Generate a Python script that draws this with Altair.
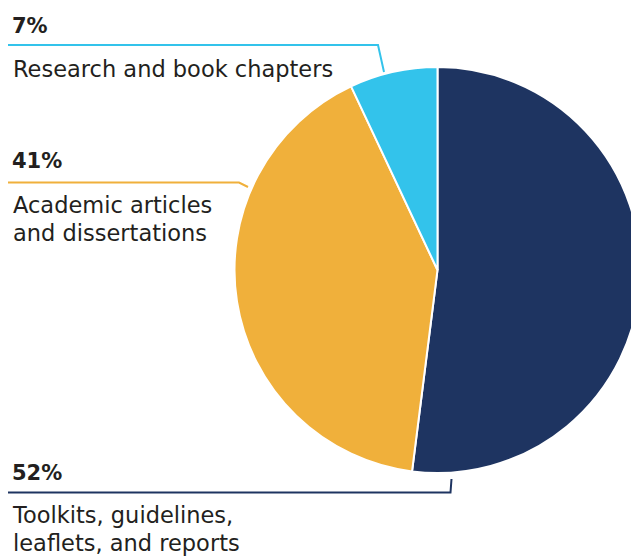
import altair as alt
import pandas as pd

# ---- data ----
categories = ["Toolkits, guidelines,\nleaflets, and reports",
              "Academic articles\nand dissertations",
              "Research and book chapters"]
values = [52, 41, 7]
pct_labels = ["52%", "41%", "7%"]
colors = ["#1E3461", "#F0B03B", "#33C3EB"]

# ---- layout (pixel positions of annotations, chart coordinates) ----
pct_pos = [(4, 472), (4, 160), (4, 25)]
name_pos = [(5, 515), (5, 205), (5, 69)]
leader_paths = [
    [(0, 484.5), (442.5, 484.5), (443.5, 471)],
    [(0, 174.5), (231, 174.5), (240, 179)],
    [(0, 37), (370, 37), (376, 64)],
]
CX, CY, R = 429.5, 262, 203
W, H = 623, 548

pie_df = pd.DataFrame({"category": categories, "value": values,
                       "idx": list(range(len(values)))})

pct_df = pd.DataFrame({"label": pct_labels,
                       "x": [p[0] for p in pct_pos],
                       "y": [p[1] for p in pct_pos]})
name_df = pd.DataFrame({"label": categories,
                        "x": [p[0] for p in name_pos],
                        "y": [p[1] for p in name_pos]})
rows = []
for i, path in enumerate(leader_paths):
    for j, (x, y) in enumerate(path):
        rows.append({"series": categories[i], "o": j, "x": x, "y": y})
line_df = pd.DataFrame(rows)

color_scale = alt.Scale(domain=categories, range=colors)

pie = alt.Chart(pie_df).mark_arc(radius=R, stroke="white", strokeWidth=2,
                                  x=CX, y=CY).encode(
    theta=alt.Theta("value:Q", stack=True),
    color=alt.Color("category:N", scale=color_scale, legend=None),
    order=alt.Order("idx:Q"),
)

lines = alt.Chart(line_df).mark_line(strokeWidth=2, strokeJoin="miter").encode(
    x=alt.X("x:Q", scale=None, axis=None),
    y=alt.Y("y:Q", scale=None, axis=None),
    color=alt.Color("series:N", scale=color_scale, legend=None),
    order=alt.Order("o:Q"),
    detail="series:N",
)

pct = alt.Chart(pct_df).mark_text(align="left", baseline="alphabetic",
                                  font="DejaVu Sans", fontSize=21,
                                  fontWeight="bold", color="#231F20").encode(
    x=alt.X("x:Q", scale=None, axis=None),
    y=alt.Y("y:Q", scale=None, axis=None),
    text="label:N",
)

names = alt.Chart(name_df).mark_text(align="left", baseline="alphabetic",
                                     font="DejaVu Sans", fontSize=22.5,
                                     lineBreak="\n", lineHeight=27.5,
                                     color="#231F20").encode(
    x=alt.X("x:Q", scale=None, axis=None),
    y=alt.Y("y:Q", scale=None, axis=None),
    text="label:N",
)

chart = alt.layer(pie, lines, pct, names).properties(
    width=W, height=H, padding=0, autosize="none"
).configure_view(stroke=None)

chart.save("out.html", embed_options={"renderer": "svg", "actions": False})
